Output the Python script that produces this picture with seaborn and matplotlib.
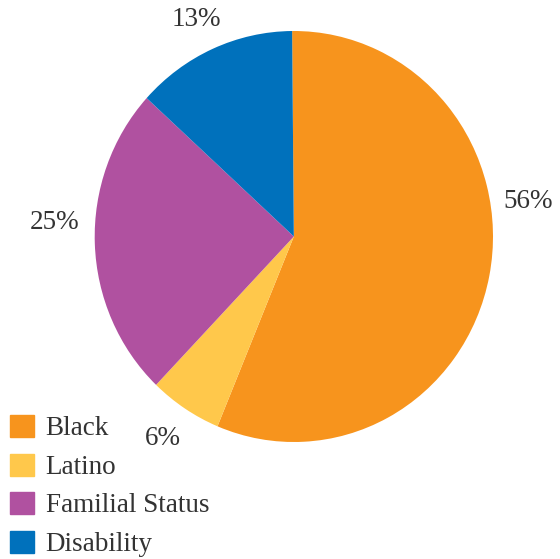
import matplotlib
matplotlib.use("Agg")
import matplotlib.pyplot as plt
import matplotlib.patches as mpatches
import seaborn as sns
import numpy as np

categories = ["Black", "Latino", "Familial Status", "Disability"]
values = [56.4, 5.9, 24.6, 13.1]
colors = ["#F7941D", "#FFC84B", "#B051A0", "#0071BC"]
label_nudge = [0.40, 0.02, 0.11, -0.04]  # vertical nudges of the percent labels (radius units)

sns.set_theme(style="white")
plt.rcParams["font.family"] = ["Liberation Serif", "DejaVu Serif"]

fig = plt.figure(figsize=(5.6, 5.59), dpi=100)
ax = fig.add_axes([94.7 / 560, 117 / 559, 398.3 / 560, 411 / 559])
wedges, texts, autotexts = ax.pie(
    values, colors=colors, startangle=90.5, counterclock=False,
    autopct=lambda p: f"{p:.0f}%", pctdistance=1.2,
    wedgeprops=dict(linewidth=0), textprops=dict(fontsize=19.5, color="#333333"),
    radius=1.0,
)
for t, dy in zip(autotexts, label_nudge):
    x, y = t.get_position()
    t.set_position((x, y + dy))
    t.set_clip_on(False)
ax.set_xlim(-1, 1)
ax.set_ylim(-1, 1)
ax.set_aspect("auto")
ax.axis("off")

handles = [mpatches.Patch(color=c, label=l) for c, l in zip(colors, categories)]
fig.legend(handles=handles, loc="lower left", bbox_to_anchor=(10 / 560, 2 / 559),
           frameon=False, fontsize=19.5, handlelength=0.87, handleheight=0.87,
           handletextpad=0.45, labelspacing=0.45, borderpad=0, borderaxespad=0,
           labelcolor="#333333")

fig.savefig("out.png", dpi=100)
